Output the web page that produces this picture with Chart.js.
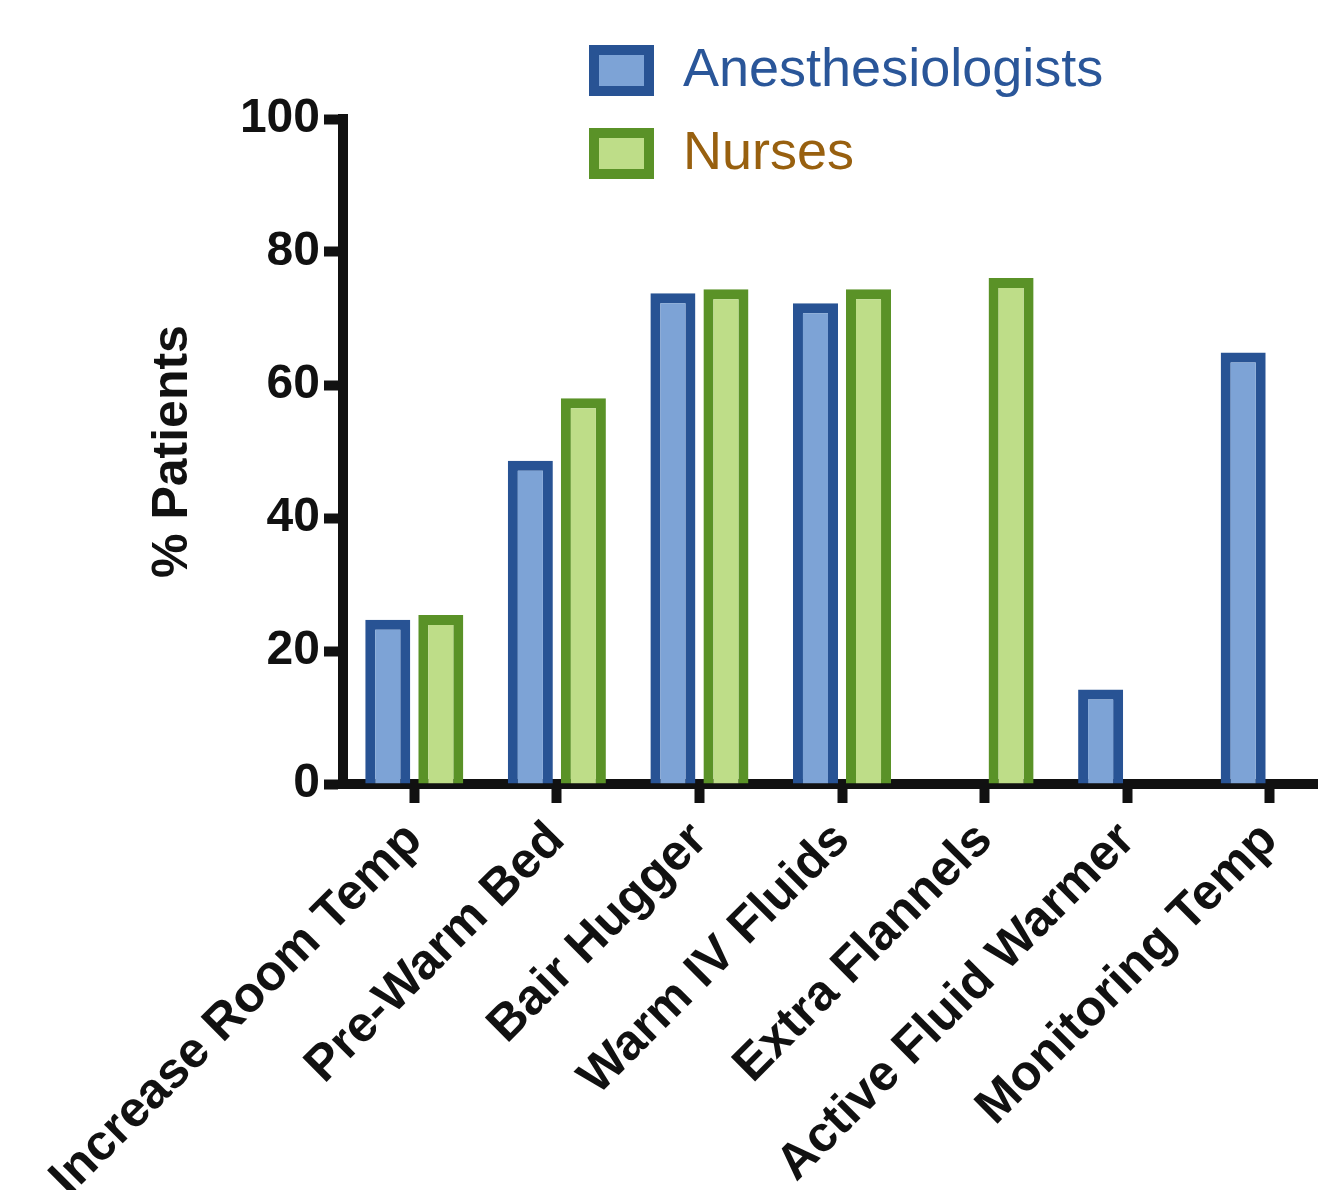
<!DOCTYPE html>
<html>
<head>
<meta charset="utf-8">
<script src="https://cdn.jsdelivr.net/npm/chart.js@4/dist/chart.umd.min.js"></script>
<style>
  html, body { margin: 0; padding: 0; background: #fff; overflow: hidden; }
  #wrap { width: 1341px; height: 1190px; }
</style>
</head>
<body>
<div id="wrap"><canvas id="mainChart"></canvas></div>
<script>
// chart data
const categories = ['Increase Room Temp', 'Pre-Warm Bed', 'Bair Hugger', 'Warm IV Fluids',
    'Extra Flannels', 'Active Fluid Warmer', 'Monitoring Temp'];
const anesthesiologists = [24.7, 48.6, 73.8, 72.3, null, 14.2, 64.9];
const nurses = [25.4, 58.0, 74.4, 74.4, 76.1, null, null];
const yTicks = [0, 20, 40, 60, 80, 100];

const FONT = "'Liberation Sans', Arial, Helvetica, sans-serif";
const AXIS = '#111111';

// legend stacked vertically, drawn by hand
const stackedLegend = {
    id: 'stackedLegend',
    afterDraw(chart) {
        const ctx = chart.ctx;
        const textColors = ['#2a5699', '#98600f'];
        ctx.save();
        chart.data.datasets.forEach((ds, i) => {
            const x = 589, y = 45 + i * 83, w = 65, h = 51, bw = 10;
            ctx.fillStyle = ds.borderColor;
            ctx.fillRect(x, y, w, h);
            ctx.fillStyle = ds.backgroundColor;
            ctx.fillRect(x + bw, y + bw, w - 2 * bw, h - 2 * bw);
            ctx.fillStyle = textColors[i];
            ctx.font = '54px ' + FONT;
            ctx.textBaseline = 'middle';
            ctx.textAlign = 'left';
            ctx.fillText(ds.label, 683, y + h / 2 + 1);
        });
        ctx.restore();
    }
};

const ctx = document.getElementById('mainChart').getContext('2d');
new Chart(ctx, {
    type: 'bar',
    data: {
        labels: categories,
        datasets: [{
            label: 'Anesthesiologists',
            data: anesthesiologists,
            backgroundColor: '#7da3d6',
            borderColor: '#285394',
            borderWidth: 10,
            barPercentage: 0.849,
            categoryPercentage: 0.744
        }, {
            label: 'Nurses',
            data: nurses,
            backgroundColor: '#bedd88',
            borderColor: '#5a9227',
            borderWidth: 10,
            barPercentage: 0.849,
            categoryPercentage: 0.744
        }]
    },
    options: {
        responsive: true,
        maintainAspectRatio: false,
        animation: false,
        layout: {
            padding: { top: 119, left: 0, right: 0, bottom: 0 }
        },
        plugins: {
            legend: { display: false },
            tooltip: { enabled: false }
        },
        scales: {
            x: {
                grid: {
                    offset: false,
                    drawOnChartArea: false,
                    drawTicks: true,
                    tickLength: 19,
                    tickWidth: 10,
                    tickColor: AXIS
                },
                border: { display: true, color: AXIS, width: 10 },
                ticks: {
                    autoSkip: false,
                    minRotation: 45,
                    maxRotation: 45,
                    padding: 8,
                    color: AXIS,
                    font: { family: FONT, size: 50, weight: 'bold' }
                },
                afterFit(s) {
                    s.height = 406;
                    s.paddingLeft = 0;
                    s.paddingRight = 0;
                }
            },
            y: {
                min: 0,
                max: 100,
                afterBuildTicks(s) {
                    s.ticks = yTicks.map(v => ({ value: v }));
                },
                grid: {
                    drawOnChartArea: false,
                    drawTicks: true,
                    tickLength: 19,
                    tickWidth: 10,
                    tickColor: AXIS
                },
                border: { display: true, color: AXIS, width: 10 },
                ticks: {
                    padding: 4,
                    color: AXIS,
                    font: { family: FONT, size: 48, weight: 'bold' }
                },
                title: {
                    display: true,
                    text: '% Patients',
                    color: AXIS,
                    padding: { top: 143, bottom: 0 },
                    font: { family: FONT, size: 50, weight: 'bold' }
                },
                afterFit(s) {
                    s.width = 343;
                    s.paddingTop = 0;
                    s.paddingBottom = 0;
                }
            }
        }
    },
    plugins: [stackedLegend]
});
</script>
</body>
</html>
